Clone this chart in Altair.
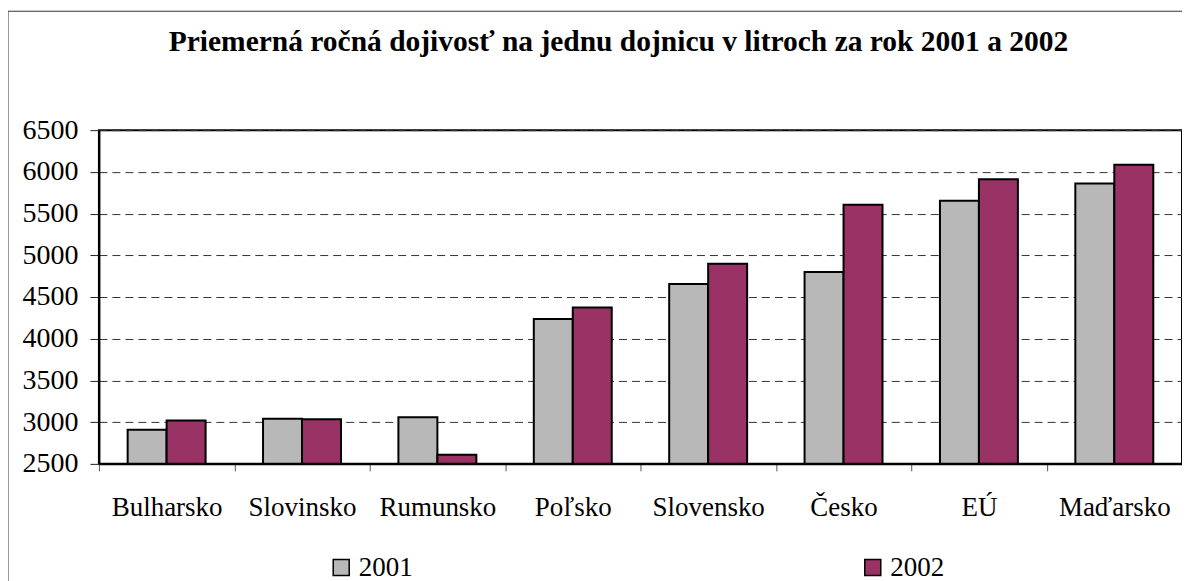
import altair as alt
import pandas as pd

categories = ["Bulharsko", "Slovinsko", "Rumunsko", "Poľsko", "Slovensko", "Česko", "EÚ", "Maďarsko"]
years = ["2001", "2002"]
values_2001 = [2910, 3040, 3060, 4235, 4655, 4800, 5655, 5860]
values_2002 = [3020, 3035, 2610, 4375, 4900, 5605, 5910, 6085]
y_ticks = [2500, 3000, 3500, 4000, 4500, 5000, 5500, 6000, 6500]
title_text = "Priemerná ročná dojivosť na jednu dojnicu v litroch za rok 2001 a 2002"

rows = []
for c, a, b in zip(categories, values_2001, values_2002):
    rows.append({"krajina": c, "rok": years[0], "hodnota": a})
    rows.append({"krajina": c, "rok": years[1], "hodnota": b})
df = pd.DataFrame(rows)

FONT = "Liberation Serif"

bars = alt.Chart(df).mark_bar(stroke="black", strokeWidth=2).encode(
    x=alt.X("krajina:N", sort=categories, title=None,
            scale=alt.Scale(paddingInner=0, paddingOuter=0),
            axis=alt.Axis(labelAngle=0, tickBand="extent", tickSize=7, tickColor="#555",
                          domainColor="black", domainWidth=2, labelPadding=24,
                          labelFontSize=27, labelFont=FONT, labelColor="black")),
    xOffset=alt.XOffset("rok:N", scale=alt.Scale(paddingOuter=0.737, paddingInner=0)),
    y=alt.Y("hodnota:Q", title=None,
            scale=alt.Scale(domain=[2500, 6500], zero=False, nice=False),
            axis=alt.Axis(values=y_ticks, format="d", tickSize=9, tickColor="#222",
                          domainColor="black", domainWidth=2, labelPadding=12,
                          labelFontSize=28, labelFont=FONT, labelColor="black", grid=True,
                          gridDash=[8, 5], gridColor="#333", gridWidth=1)),
    y2=alt.datum(2500),
    color=alt.Color("rok:N", scale=alt.Scale(domain=years, range=["#b8b8b8", "#993366"]),
                    legend=alt.Legend(title=None, orient="none", legendX=229, legendY=424,
                                      direction="horizontal", symbolType="square",
                                      symbolSize=256, symbolStrokeColor="black",
                                      symbolStrokeWidth=1.5, labelFontSize=27, labelFont=FONT,
                                      labelColor="black", labelOffset=4, columnPadding=447)),
)

frame = alt.Chart(pd.DataFrame({"f": [0]})).mark_rect(
    fill=None, stroke="#333", strokeWidth=1
).encode(x=alt.value(-91), x2=alt.value(1100), y=alt.value(-119), y2=alt.value(480))

title = alt.Chart(pd.DataFrame({"t": [title_text]})).mark_text(
    font=FONT, fontSize=29.5, fontWeight="bold", color="black", align="center",
    baseline="middle"
).encode(text="t:N", x=alt.value(520), y=alt.value(-88))

chart = alt.layer(frame, bars, title).properties(
    width=1084, height=334,
    padding={"left": 91, "top": 122, "right": 0, "bottom": 135},
    autosize=alt.AutoSizeParams(type="none"),
).configure(font=FONT).configure_view(stroke="black", strokeWidth=2)

chart.save("out.html", embed_options={"renderer": "svg", "actions": False})
